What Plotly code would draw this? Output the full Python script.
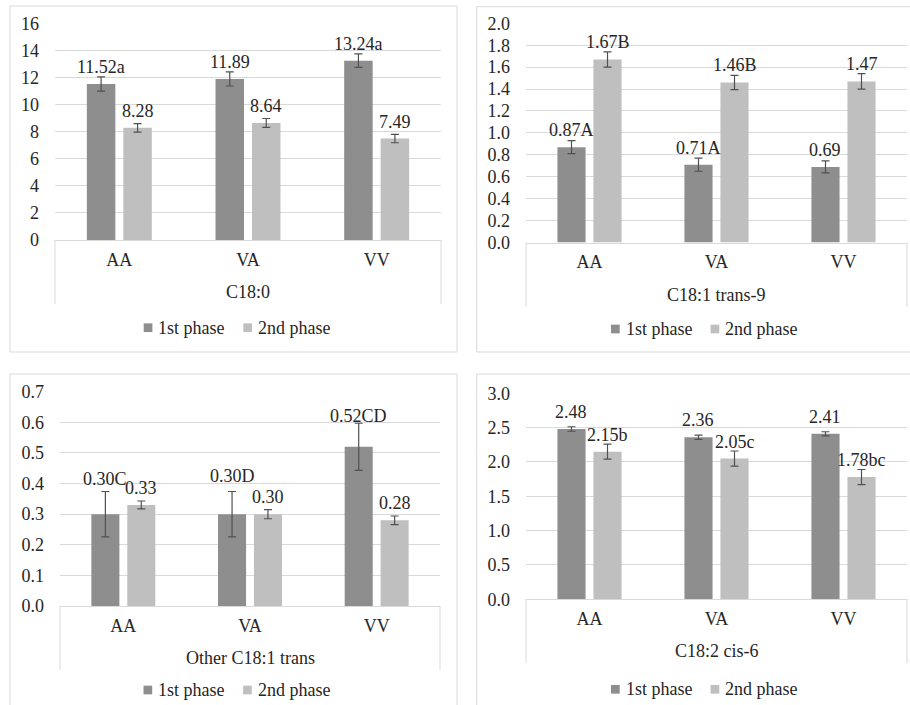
import plotly.graph_objects as go

# ---------------------------------------------------------------- data
groups = ["AA", "VA", "VV"]
series_names = ["1st phase", "2nd phase"]

# C18:0
c180_p1 = [11.52, 11.89, 13.24]
c180_p2 = [8.28, 8.64, 7.49]
c180_p1_err = [0.53, 0.52, 0.50]
c180_p2_err = [0.31, 0.33, 0.31]
c180_p1_sig = ["a", "", "a"]
c180_p2_sig = ["", "", ""]

# C18:1 trans-9
t9_p1 = [0.87, 0.71, 0.69]
t9_p2 = [1.67, 1.46, 1.47]
t9_p1_err = [0.06, 0.06, 0.055]
t9_p2_err = [0.07, 0.065, 0.07]
t9_p1_sig = ["A", "A", ""]
t9_p2_sig = ["B", "B", ""]

# Other C18:1 trans
oth_p1 = [0.30, 0.30, 0.52]
oth_p2 = [0.33, 0.30, 0.28]
oth_p1_err = [0.074, 0.074, 0.077]
oth_p2_err = [0.013, 0.015, 0.014]
oth_p1_sig = ["C", "D", "CD"]
oth_p2_sig = ["", "", ""]

# C18:2 cis-6
c6_p1 = [2.48, 2.36, 2.41]
c6_p2 = [2.15, 2.05, 1.78]
c6_p1_err = [0.033, 0.03, 0.03]
c6_p2_err = [0.11, 0.11, 0.11]
c6_p1_sig = ["", "", ""]
c6_p2_sig = ["b", "c", "bc"]

titles = ["C18:0", "C18:1 trans-9", "Other C18:1 trans", "C18:2 cis-6"]
y_max = [16, 2.0, 0.7, 3.0]
y_step = [2, 0.2, 0.1, 0.5]
y_fmt = ["d", ".1f", ".1f", ".1f"]

# ---------------------------------------------------------------- style
W, H = 910, 705
FONT = "Liberation Serif"
FS = 18
TXT = "#262626"
C1, C2 = "#8e8e8e", "#bfbfbf"
GRID = "#d9d9d9"
FRAME = "#d9d9d9"
ERR = "#505050"
BARGAP, GROUPGAP = 0.433, 0.219

# panel geometry in pixels: frame box, plot box (left, right, top, bottom), legend anchor
layout_px = [
    dict(frame=(10, 6, 457, 352), plot=(55, 441, 23.3, 240), legend=(143.7, 327.7)),
    dict(frame=(476.7, 6.7, 915, 352), plot=(526, 907, 23.3, 242.5), legend=(611, 329)),
    dict(frame=(10, 374, 457, 712), plot=(60, 440, 391.7, 606), legend=(143.5, 690)),
    dict(frame=(476.7, 374, 915, 712), plot=(526, 907, 393.3, 599.3), legend=(611, 689.3)),
]
# extra lift (px) for labels that sit above their error bars
label_lift = [
    ([0, 0, 0], [0, 0, 0]),
    ([0, 0, 0], [0, 0, 0]),
    ([18, 21, 14], [0, 0, 0]),
    ([0, 0, 0], [0, 0, 0]),
]

panels = [
    (c180_p1, c180_p2, c180_p1_err, c180_p2_err, c180_p1_sig, c180_p2_sig),
    (t9_p1, t9_p2, t9_p1_err, t9_p2_err, t9_p1_sig, t9_p2_sig),
    (oth_p1, oth_p2, oth_p1_err, oth_p2_err, oth_p1_sig, oth_p2_sig),
    (c6_p1, c6_p2, c6_p1_err, c6_p2_err, c6_p1_sig, c6_p2_sig),
]


def fx(px):
    return px / W


def fy(py):
    return 1 - py / H


fig = go.Figure()
shapes, annotations = [], []
LABEL_BASE = 5

for i, (v1, v2, e1, e2, s1, s2) in enumerate(panels):
    n = "" if i == 0 else str(i + 1)
    geo = layout_px[i]
    left, right, top, bottom = geo["plot"]
    colors = [C1, C2]
    vals = [v1, v2]
    errs = [e1, e2]
    sigs = [s1, s2]

    for k in range(2):
        fig.add_trace(go.Bar(
            x=groups, y=vals[k], name=series_names[k],
            marker=dict(color=colors[k], line=dict(width=0)),
            error_y=dict(type="data", array=errs[k], visible=True,
                         color=ERR, thickness=1.2, width=4),
            xaxis="x" + n, yaxis="y" + n, showlegend=False,
        ))

    # value labels above bars
    catw = (right - left) / 3
    off = catw * (1 - BARGAP) / 4
    for k in range(2):
        for j, g in enumerate(groups):
            annotations.append(dict(
                x=g, y=vals[k][j], xref="x" + n, yref="y" + n,
                text=f"{vals[k][j]:.2f}{sigs[k][j]}",
                showarrow=False, yanchor="bottom", xanchor="center",
                xshift=(-off if k == 0 else off),
                yshift=LABEL_BASE + label_lift[i][k][j],
                font=dict(family=FONT, size=FS, color=TXT),
            ))

    fig.update_layout(**{
        "xaxis" + n: dict(
            domain=[fx(left), fx(right)], anchor="y" + n,
            type="category", range=[-0.5, 2.5], automargin=False,
            showgrid=False, showline=True, linecolor=GRID, linewidth=1,
            ticks="", ticklabelstandoff=3,
            tickfont=dict(family=FONT, size=FS, color=TXT),
        ),
        "yaxis" + n: dict(
            domain=[fy(bottom), fy(top)], anchor="x" + n, automargin=False,
            range=[0, y_max[i]], dtick=y_step[i], tick0=0,
            tickformat=y_fmt[i], showgrid=True, gridcolor=GRID, gridwidth=1,
            zeroline=False, showline=False, ticks="", ticklabelstandoff=15,
            tickfont=dict(family=FONT, size=FS, color=TXT),
        ),
    })

    # panel frame
    fx0, fy0, fx1, fy1 = geo["frame"]
    shapes.append(dict(type="rect", xref="paper", yref="paper",
                       x0=fx(fx0), x1=fx(fx1), y0=fy(fy1), y1=fy(fy0),
                       line=dict(color=FRAME, width=1), fillcolor="rgba(0,0,0,0)"))
    # category box side lines
    for xx in (left, right):
        shapes.append(dict(type="line", xref="paper", yref="paper",
                           x0=fx(xx), x1=fx(xx), y0=fy(bottom), y1=fy(bottom + 64),
                           line=dict(color=GRID, width=1)))
    # axis title
    annotations.append(dict(
        x=fx((left + right) / 2), y=fy(bottom + 52), xref="paper", yref="paper",
        text=titles[i], showarrow=False, xanchor="center", yanchor="middle",
        font=dict(family=FONT, size=FS, color=TXT),
    ))
    # legend
    lx, ly = geo["legend"]
    for k, dx in enumerate((0, 99.6)):
        shapes.append(dict(type="rect", xref="paper", yref="paper",
                           x0=fx(lx + dx), x1=fx(lx + dx + 8.7),
                           y0=fy(ly + 4.35), y1=fy(ly - 4.35),
                           line=dict(width=0), fillcolor=colors[k]))
        annotations.append(dict(
            x=fx(lx + dx + 12.5), y=fy(ly), xref="paper", yref="paper",
            text=series_names[k], showarrow=False, xanchor="left", yanchor="middle",
            font=dict(family=FONT, size=FS, color=TXT),
        ))

fig.update_layout(
    width=W, height=H,
    margin=dict(l=0, r=0, t=0, b=0, autoexpand=False),
    paper_bgcolor="white", plot_bgcolor="white",
    barmode="group", bargap=BARGAP, bargroupgap=GROUPGAP,
    showlegend=False,
    shapes=shapes, annotations=annotations,
    font=dict(family=FONT, size=FS, color=TXT),
)

fig.write_html("out.html")
